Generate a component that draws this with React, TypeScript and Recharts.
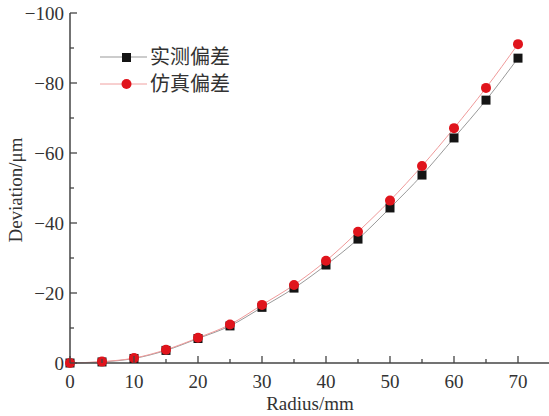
import React from "react";
import { LineChart, Line, XAxis, YAxis, Legend } from "recharts";

const radius = [0, 5, 10, 15, 20, 25, 30, 35, 40, 45, 50, 55, 60, 65, 70];
const measured = [0, -0.3, -1.3, -3.6, -7.0, -10.6, -15.9, -21.4, -28.0, -35.4, -44.3, -53.7, -64.3, -75.1, -87.1];
const simulated = [0, -0.4, -1.4, -3.8, -7.2, -11.0, -16.6, -22.3, -29.2, -37.5, -46.4, -56.3, -67.1, -78.6, -91.1];
const xTicks = [0, 5, 10, 15, 20, 25, 30, 35, 40, 45, 50, 55, 60, 65, 70, 75];
const yTicks = [-100, -90, -80, -70, -60, -50, -40, -30, -20, -10, 0];
const seriesNames = ["实测偏差", "仿真偏差"];

const data = radius.map((r, i) => ({ r, m: measured[i], s: simulated[i] }));

const AXIS = "#444";
const FONT = "'Liberation Serif', 'Noto Sans CJK SC', serif";
const fmt = (v: number) => (v < 0 ? "\u2212" + Math.abs(v) : String(v));

const BottomTick = (p: any) => {
  const v = p.payload.value;
  const major = v % 10 === 0;
  return (
    <g>
      <line x1={p.x} x2={p.x} y1={p.y} y2={p.y - (major ? 7 : 4)} stroke={AXIS} strokeWidth={1.3} />
      {major && v <= 70 ? (
        <text x={p.x} y={p.y + 25} textAnchor="middle" fontSize={19} fill="#333" fontFamily={FONT}>
          {fmt(v)}
        </text>
      ) : null}
    </g>
  );
};

const TopTick = (p: any) => {
  const v = p.payload.value;
  const major = v % 10 === 0;
  return <line x1={p.x} x2={p.x} y1={p.y} y2={p.y + (major ? 7 : 4)} stroke={AXIS} strokeWidth={1.3} />;
};

const LeftTick = (p: any) => {
  const v = p.payload.value;
  const major = v % 20 === 0;
  return (
    <g>
      <line x1={p.x} x2={p.x + (major ? 7 : 4)} y1={p.y} y2={p.y} stroke={AXIS} strokeWidth={1.3} />
      {major ? (
        <text x={p.x - 6} y={p.y} dy="0.35em" textAnchor="end" fontSize={19} fill="#333" fontFamily={FONT}>
          {fmt(v)}
        </text>
      ) : null}
    </g>
  );
};

const RightTick = (p: any) => {
  const v = p.payload.value;
  const major = v % 20 === 0;
  return <line x1={p.x} x2={p.x - (major ? 7 : 4)} y1={p.y} y2={p.y} stroke={AXIS} strokeWidth={1.3} />;
};

const SquareDot = (p: any) => {
  if (p.cx == null || p.cy == null) return <g key={p.key} />;
  return <rect key={p.key} x={p.cx - 4.5} y={p.cy - 4.5} width={9} height={9} fill="#141414" />;
};

const CircleDot = (p: any) => {
  if (p.cx == null || p.cy == null) return <g key={p.key} />;
  return <circle key={p.key} cx={p.cx} cy={p.cy} r={5} fill="#e0141c" />;
};

const YLabel = () => (
  <text x={22} y={190} transform="rotate(-90 22 190)" textAnchor="middle" fontSize={19} fill="#333" fontFamily={FONT}>
    Deviation/{"\u03bc"}m
  </text>
);

const XLabel = () => (
  <text x={310} y={410} textAnchor="middle" fontSize={19} fill="#333" fontFamily={FONT}>
    Radius/mm
  </text>
);

const LegendContent = () => (
  <svg width={200} height={60}>
    <line x1={5} x2={52} y1={12} y2={12} stroke="#999" strokeWidth={1} />
    <rect x={27} y={8} width={9} height={9} fill="#141414" />
    <text x={55} y={12} dy="0.35em" fontSize={20} fill="#333" fontFamily={FONT}>{seriesNames[0]}</text>
    <line x1={5} x2={52} y1={39} y2={39} stroke="#f0a0a0" strokeWidth={1} />
    <circle cx={31.5} cy={39} r={5} fill="#e0141c" />
    <text x={55} y={39} dy="0.35em" fontSize={20} fill="#333" fontFamily={FONT}>{seriesNames[1]}</text>
  </svg>
);

export default function App() {
  return (
    <div style={{ position: "absolute", left: 0, top: 0, width: 549, height: 416, overflow: "hidden", background: "#fff" }}>
      <LineChart width={560} height={416} data={data} margin={{ top: 13, right: 10, left: 0, bottom: 13 }}>
        <XAxis
          xAxisId="b"
          dataKey="r"
          type="number"
          domain={[0, 75]}
          ticks={xTicks}
          interval={0}
          height={40}
          tickSize={0}
          tickMargin={0}
          tickLine={false}
          tick={BottomTick}
          axisLine={{ stroke: AXIS, strokeWidth: 1.5 }}
          label={<XLabel />}
        />
        <XAxis
          xAxisId="t"
          orientation="top"
          dataKey="r"
          type="number"
          domain={[0, 75]}
          ticks={xTicks}
          interval={0}
          height={0}
          tickSize={0}
          tickMargin={0}
          tickLine={false}
          tick={TopTick}
          axisLine={{ stroke: AXIS, strokeWidth: 1.5 }}
        />
        <YAxis
          yAxisId="l"
          type="number"
          domain={[-100, 0]}
          reversed
          ticks={yTicks}
          interval={0}
          width={70}
          tickSize={0}
          tickMargin={0}
          tickLine={false}
          tick={LeftTick}
          axisLine={{ stroke: AXIS, strokeWidth: 1.5 }}
          label={<YLabel />}
        />
        <YAxis
          yAxisId="r"
          orientation="right"
          type="number"
          domain={[-100, 0]}
          reversed
          ticks={yTicks}
          interval={0}
          width={0}
          tickSize={0}
          tickMargin={0}
          tickLine={false}
          tick={RightTick}
          axisLine={{ stroke: AXIS, strokeWidth: 1.5 }}
        />
        <Legend
          layout="horizontal"
          verticalAlign="middle"
          align="center"
          content={<LegendContent />}
          wrapperStyle={{ position: "absolute", left: 95, top: 45, width: 200, height: 60 }}
        />
        <Line
          xAxisId="b"
          yAxisId="l"
          type="monotone"
          dataKey="m"
          name={seriesNames[0]}
          stroke="#9a9a9a"
          strokeWidth={1}
          dot={SquareDot}
          activeDot={false}
          isAnimationActive={false}
        />
        <Line
          xAxisId="b"
          yAxisId="l"
          type="monotone"
          dataKey="s"
          name={seriesNames[1]}
          stroke="#f09a9a"
          strokeWidth={1}
          dot={CircleDot}
          activeDot={false}
          isAnimationActive={false}
        />
      </LineChart>
    </div>
  );
}
